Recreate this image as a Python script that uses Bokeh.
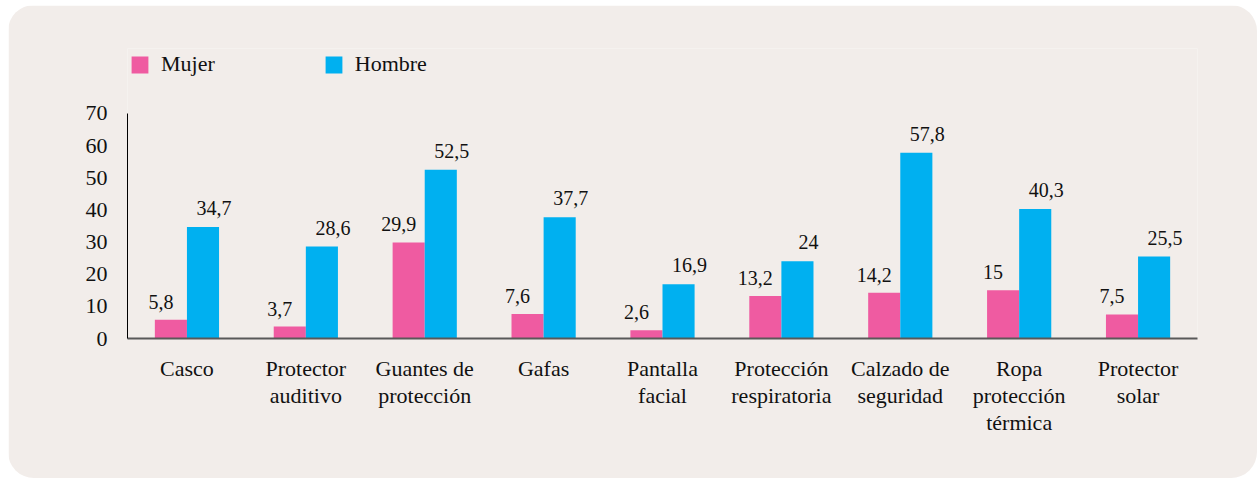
from bokeh.plotting import figure
from bokeh.models import ColumnDataSource, FixedTicker, Legend, LegendItem
from bokeh.transform import dodge
from bokeh.embed import file_html
from bokeh.resources import INLINE
from bokeh.core.properties import value

categories = ["Casco", "Protector\nauditivo", "Guantes de\nprotección", "Gafas",
              "Pantalla\nfacial", "Protección\nrespiratoria", "Calzado de\nseguridad",
              "Ropa\nprotección\ntérmica", "Protector\nsolar"]
mujer = [5.8, 3.7, 29.9, 7.6, 2.6, 13.2, 14.2, 15, 7.5]
hombre = [34.7, 28.6, 52.5, 37.7, 16.9, 24, 57.8, 40.3, 25.5]
y_ticks = [0, 10, 20, 30, 40, 50, 60, 70]

def fmt(v):
    return f"{v:g}".replace(".", ",")

src = ColumnDataSource(dict(
    cat=categories, mujer=mujer, hombre=hombre,
    mujer_lbl=[fmt(v) for v in mujer], hombre_lbl=[fmt(v) for v in hombre],
))

BG = "#F2EDEA"
PINK = "#EF5BA1"
CYAN = "#00B0F0"
FONT = "Liberation Serif"
TXT = "#111111"

p = figure(width=1249, height=473, x_range=categories, y_range=(0, 90.22),
           output_backend="svg", toolbar_location=None,
           min_border_left=119, min_border_right=60, min_border_top=43, min_border_bottom=140)
p.styles = {"margin-left": "8px", "margin-top": "5px",
            "border-radius": "26px", "overflow": "hidden"}
p.background_fill_color = BG
p.border_fill_color = BG
p.outline_line_color = None
p.xgrid.grid_line_color = None
p.ygrid.grid_line_color = None
p.x_range.range_padding = 0

w = 0.27
r1 = p.vbar(x=dodge("cat", -w / 2, range=p.x_range), top="mujer", width=w, source=src,
            fill_color=PINK, line_color=None)
r2 = p.vbar(x=dodge("cat", w / 2, range=p.x_range), top="hombre", width=w, source=src,
            fill_color=CYAN, line_color=None)

p.text(x=dodge("cat", -w / 2, range=p.x_range), y="mujer", text="mujer_lbl", source=src,
       x_offset=-10, y_offset=-11, text_align="center", text_baseline="bottom",
       text_font=value(FONT), text_font_size="20px", text_color=TXT)
p.text(x=dodge("cat", w / 2, range=p.x_range), y="hombre", text="hombre_lbl", source=src,
       x_offset=11, y_offset=-12, text_align="center", text_baseline="bottom",
       text_font=value(FONT), text_font_size="20px", text_color=TXT)

# axes
p.yaxis.ticker = FixedTicker(ticks=y_ticks)
p.yaxis.bounds = (0, 70)
p.yaxis.axis_line_color = "#000000"
p.yaxis.axis_line_width = 1
p.yaxis.major_tick_line_color = None
p.yaxis.minor_tick_line_color = None
p.yaxis.major_tick_out = 0
p.yaxis.major_tick_in = 0
p.yaxis.major_label_standoff = 20
p.yaxis.major_label_text_font = FONT
p.yaxis.major_label_text_font_size = "22px"
p.yaxis.major_label_text_color = TXT

p.xaxis.axis_line_color = "#595959"
p.xaxis.axis_line_width = 2
p.xaxis.major_tick_line_color = None
p.xaxis.minor_tick_line_color = None
p.xaxis.major_tick_out = 0
p.xaxis.major_tick_in = 0
p.xaxis.major_label_standoff = 17
p.xaxis.major_label_text_font = FONT
p.xaxis.major_label_text_font_size = "22px"
p.xaxis.major_label_text_color = TXT
p.xaxis.major_label_text_line_height = 1.08

legend = Legend(items=[LegendItem(label="Mujer", renderers=[r1]),
                       LegendItem(label="Hombre", renderers=[r2])],
                orientation="horizontal", location=(2, 261),
                glyph_width=21, glyph_height=21, label_height=21,
                label_standoff=11, spacing=108, padding=0, margin=0,
                border_line_color=None, background_fill_alpha=0,
                label_text_font=FONT, label_text_font_size="22px",
                label_text_color=TXT)
p.add_layout(legend, "center")

open("out.html", "w").write(file_html(p, INLINE))
